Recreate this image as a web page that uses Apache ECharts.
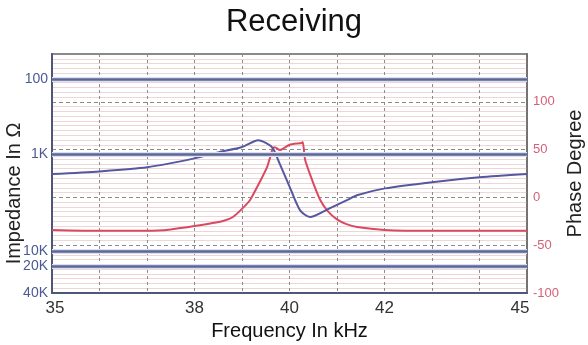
<!DOCTYPE html>
<html>
<head>
<meta charset="utf-8">
<script src="https://cdn.jsdelivr.net/npm/echarts@6/dist/echarts.min.js"></script>
<style>
  html, body { margin: 0; padding: 0; background: #fff; }
  #chart { width: 588px; height: 345px; }
</style>
</head>
<body>
<div id="chart"></div>
<script>
// frequency ticks shown on the x axis (kHz)
const freqTicks = [35, 38, 40, 42, 45];

// impedance curve (kHz, ohm)
const impFreq = [35, 36, 37, 38, 38.5, 39, 39.34, 39.51, 39.65, 39.8, 39.99, 40.22, 40.43, 40.81, 41.21, 41.42, 42.01, 43, 44, 45];
const impOhm = [1600, 1500, 1360, 1100, 940, 800, 650, 710, 830, 1270, 2090, 3780, 4460, 3690, 2980, 2650, 2250, 1940, 1730, 1600];

// phase curve (kHz, degree)
const phaseFreq = [35, 36, 37, 37.5, 38, 38.6, 38.81, 39.02, 39.17, 39.32, 39.53, 39.65, 39.69, 39.8, 40, 40.26, 40.28, 40.33, 40.5, 40.65, 40.8, 41, 41.2, 41.42, 42, 43, 45];
const phaseDeg = [-34, -35, -35, -33.5, -30, -24.7, -20.5, -11, -2.7, 11, 32, 51.5, 52.5, 49.5, 55, 57, 58, 39, 15, -3, -14, -23, -28, -31, -34, -35, -35];

// left axis labels (ohm)
const impLabels = ['100', '1K', '10K', '20K', '40K'];
const impOhmTicks = [100, 1000, 10000, 20000, 40000];
// where each of these sits on the left axis (0 = bottom, 250 = top)
const impTickPos = [224, 145, 44, 28, 0];

// phase range on the right
const phaseMin = -100, phaseMax = 150;

// impedance -> left axis position, log-linear between the printed labels
function toPos(ohm) {
  const l = Math.log10(ohm);
  for (let i = 0; i < impOhmTicks.length - 1; i++) {
    const a = Math.log10(impOhmTicks[i]), b = Math.log10(impOhmTicks[i + 1]);
    if (l <= b || i === impOhmTicks.length - 2) {
      const t = (l - a) / (b - a);
      return impTickPos[i] + t * (impTickPos[i + 1] - impTickPos[i]);
    }
  }
}

const font = "'Liberation Sans', Arial, sans-serif";
const blueLine = '#5c6696';

const chart = echarts.init(document.getElementById('chart'));

// solid blue reference lines at 100 / 1K / 10K / 20K, with a pale halo under them
const halo = impOhmTicks.slice(0, 4).map((o) => ({ yAxis: toPos(o), lineStyle: { color: '#d9dff0', width: 5, type: 'solid' } }));
const solid = impOhmTicks.slice(0, 4).map((o) => ({ yAxis: toPos(o), lineStyle: { color: blueLine, width: 2.5, type: 'solid' } }));

chart.setOption({
  animation: false,
  title: {
    text: 'Receiving',
    left: 289,
    top: 2,
    textAlign: 'center',
    textStyle: { fontFamily: font, fontSize: 31, fontWeight: 'normal', color: '#111' }
  },
  grid: {
    left: 52, right: 61, top: 54, bottom: 52,
    containLabel: false,
    outerBoundsMode: 'none',
    show: true, borderColor: '#8a8a8a', borderWidth: 2
  },
  xAxis: {
    type: 'value',
    min: 35, max: 45, interval: 1,
    name: 'Frequency In kHz',
    nameLocation: 'middle',
    nameGap: 28,
    nameMoveOverlap: false,
    nameTextStyle: { fontFamily: font, fontSize: 20, color: '#111' },
    axisLine: { show: true, lineStyle: { color: '#4f5779', width: 2 } },
    axisTick: { show: false },
    axisLabel: {
      margin: 7,
      fontFamily: font, fontSize: 17, color: '#333',
      formatter: (v) => {
        if (!freqTicks.includes(v)) return '';
        if (v === 35) return '{first|' + v + '}';
        if (v === 45) return '{last|' + v + '}';
        return String(v);
      },
      rich: {
        first: { fontFamily: font, fontSize: 17, color: '#333', padding: [0, 0, 0, 6] },
        last: { fontFamily: font, fontSize: 17, color: '#333', padding: [0, 14, 0, 0] }
      }
    },
    splitLine: { show: true, lineStyle: { color: '#8c8c8c', type: [3, 3], width: 1 } }
  },
  yAxis: [
    {
      type: 'value',
      position: 'left',
      min: 0, max: 250, interval: 1,
      name: 'Impedance In Ω',
      nameLocation: 'middle',
      nameGap: 28,
      nameMoveOverlap: false,
      nameTextStyle: { fontFamily: font, fontSize: 20, color: '#222', padding: [0, 40, 0, 0] },
      axisLine: { show: true, lineStyle: { color: '#4f5779', width: 2 } },
      axisTick: { show: false },
      splitLine: { show: false },
      axisLabel: {
        margin: 4,
        fontFamily: font, fontSize: 14, color: '#4b5a95',
        formatter: (v) => {
          const i = impTickPos.indexOf(v);
          return i >= 0 ? impLabels[i] : '';
        }
      }
    },
    {
      type: 'value',
      position: 'right',
      min: phaseMin, max: phaseMax, interval: 50,
      name: 'Phase Degree',
      nameLocation: 'middle',
      nameGap: 38,
      nameMoveOverlap: false,
      nameTextStyle: { fontFamily: font, fontSize: 20, color: '#222' },
      axisLine: { show: true, lineStyle: { color: '#6a6a6a', width: 1.5 } },
      axisTick: { show: false },
      axisLabel: {
        margin: 6,
        fontFamily: font, fontSize: 13, color: '#d4607a',
        formatter: (v) => (v === phaseMax ? '' : String(v))
      },
      splitLine: { show: true, lineStyle: { color: '#8a8a8a', type: [4, 3], width: 1 } },
      minorTick: { show: false, splitNumber: 10 },
      minorSplitLine: { show: true, lineStyle: { color: '#ecd6d6', width: 1 } }
    }
  ],
  series: [
    {
      name: 'Impedance',
      type: 'line',
      yAxisIndex: 0,
      data: impFreq.map((f, i) => [f, toPos(impOhm[i])]),
      smooth: 0.25,
      showSymbol: false,
      lineStyle: { color: '#5557a0', width: 2 },
      z: 4,
      markLine: {
        silent: true,
        symbol: 'none',
        label: { show: false },
        data: halo.concat(solid)
      }
    },
    {
      name: 'Phase',
      type: 'line',
      yAxisIndex: 1,
      data: phaseFreq.map((f, i) => [f, phaseDeg[i]]),
      smooth: 0.2,
      showSymbol: false,
      lineStyle: { color: '#d94a62', width: 2 },
      z: 3
    }
  ]
});
</script>
</body>
</html>
